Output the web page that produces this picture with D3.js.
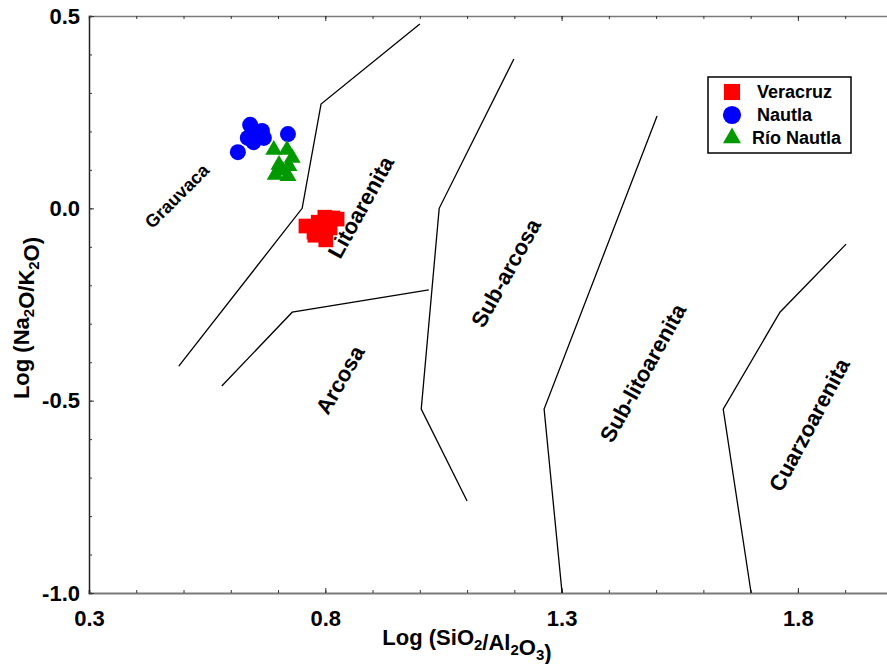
<!DOCTYPE html>
<html>
<head>
<meta charset="utf-8">
<script src="https://cdn.jsdelivr.net/npm/d3@7"></script>
<style>
  body { margin: 0; background: #fff; }
  text { font-family: "Liberation Sans", Arial, sans-serif; font-weight: bold; fill: #000; }
</style>
</head>
<body>
<div id="chart"></div>
<script>
// Sample points, [log(SiO2/Al2O3), log(Na2O/K2O)]
const veracruz = [[0.759, -0.046], [0.776, -0.062], [0.785, -0.036], [0.799, -0.023], [0.816, -0.025],
                  [0.825, -0.028], [0.801, -0.082], [0.793, -0.056], [0.810, -0.051], [0.778, -0.070]];
const nautla = [[0.641, 0.217], [0.666, 0.201], [0.670, 0.183], [0.636, 0.183], [0.648, 0.172],
                [0.615, 0.146], [0.721, 0.193], [0.655, 0.195]];
const rioNautla = [[0.691, 0.152], [0.719, 0.152], [0.730, 0.131], [0.702, 0.113], [0.723, 0.110],
                   [0.694, 0.087], [0.721, 0.084], [0.710, 0.098]];

// Field boundaries of the classification diagram
const boundaries = [
  [[0.490, -0.410], [0.751, 0.000], [0.791, 0.271], [1.000, 0.479]],
  [[0.581, -0.462], [0.730, -0.270], [1.019, -0.212]],
  [[1.199, 0.388], [1.041, 0.000], [1.003, -0.522], [1.100, -0.761]],
  [[1.502, 0.240], [1.263, -0.522], [1.301, -1.000]],
  [[1.902, -0.093], [1.762, -0.270], [1.642, -0.522], [1.701, -1.000]]
];

// Field names, position and rotation
const fieldNames = ["Grauvaca", "Litoarenita", "Arcosa", "Sub-arcosa", "Sub-litoarenita", "Cuarzoarenita"];
const fieldPos = [[0.486, 0.032], [0.875, 0.003], [0.831, -0.446], [1.182, -0.168], [1.472, -0.428], [1.824, -0.563]];
const fieldAngle = [-45, -61, -60, -61, -61, -62];

const xTicks = [0.3, 0.8, 1.3, 1.8];
const yTicks = [-1.0, -0.5, 0.0, 0.5];
const seriesNames = ["Veracruz", "Nautla", "Río Nautla"];

const svgWidth = 887, svgHeight = 664;
const svg = d3.select("#chart").append("svg")
  .attr("width", svgWidth)
  .attr("height", svgHeight);

const x = d3.scaleLinear().domain([0.3, 2.0]).range([89, 89 + 1.7 * 472.6]);
const y = d3.scaleLinear().domain([-1.0, 0.5]).range([593, 16]);

const minorX = d3.range(3, 20).map(d => d / 10);
const minorY = d3.range(-10, 6).map(d => d / 10);
// plain hyphen for negatives, as in the original
const fmt = d => d.toFixed(1);

// bottom axis: minor then major ticks, all pointing inward
svg.append("g")
  .attr("transform", "translate(0," + y(-1.0) + ")")
  .call(d3.axisBottom(x).tickValues(minorX).tickSize(-3).tickFormat(""))
  .call(g => g.select(".domain").attr("stroke", "#7a7a7a").attr("stroke-width", 2));
svg.append("g")
  .attr("transform", "translate(0," + y(-1.0) + ")")
  .call(d3.axisBottom(x).tickValues(xTicks).tickSize(-5).tickPadding(17).tickFormat(fmt))
  .call(g => g.select(".domain").remove())
  .call(g => g.selectAll("text").style("font-size", "22px"));

// top axis
svg.append("g")
  .attr("transform", "translate(0," + y(0.5) + ")")
  .call(d3.axisTop(x).tickValues(minorX).tickSize(-3).tickFormat(""))
  .call(g => g.select(".domain").attr("stroke", "#7a7a7a").attr("stroke-width", 1.5));
svg.append("g")
  .attr("transform", "translate(0," + y(0.5) + ")")
  .call(d3.axisTop(x).tickValues(xTicks).tickSize(-5).tickFormat(""))
  .call(g => g.select(".domain").remove());

// left axis
svg.append("g")
  .attr("transform", "translate(" + x(0.3) + ",0)")
  .call(d3.axisLeft(y).tickValues(minorY).tickSize(-3).tickFormat(""))
  .call(g => g.select(".domain").attr("stroke", "#222").attr("stroke-width", 1.5));
svg.append("g")
  .attr("transform", "translate(" + x(0.3) + ",0)")
  .call(d3.axisLeft(y).tickValues(yTicks).tickSize(-5).tickPadding(9).tickFormat(fmt))
  .call(g => g.select(".domain").remove())
  .call(g => g.selectAll("text").style("font-size", "22px"));

svg.selectAll(".tick line").attr("stroke", "#333");

// axis titles with subscripts
function withSubs(sel, parts) {
  parts.forEach(p => {
    if (p.sub) {
      sel.append("tspan").attr("dy", 5).style("font-size", "15px").text(p.t);
      sel.append("tspan").attr("dy", -5).text("");
    } else {
      sel.append("tspan").text(p.t);
    }
  });
}

const xTitle = svg.append("text")
  .attr("x", 467).attr("y", 645)
  .attr("text-anchor", "middle")
  .style("font-size", "22px");
withSubs(xTitle, [{t: "Log (SiO"}, {t: "2", sub: true}, {t: "/Al"}, {t: "2", sub: true},
                  {t: "O"}, {t: "3", sub: true}, {t: ")"}]);

const yTitle = svg.append("text")
  .attr("transform", "translate(29,318) rotate(-90)")
  .attr("text-anchor", "middle")
  .style("font-size", "22px");
withSubs(yTitle, [{t: "Log (Na"}, {t: "2", sub: true}, {t: "O/K"}, {t: "2", sub: true},
                  {t: "O)"}]);

// boundary lines
const line = d3.line().x(d => x(d[0])).y(d => y(d[1]));
svg.selectAll(".boundary")
  .data(boundaries)
  .enter().append("path")
    .attr("class", "boundary")
    .attr("d", line)
    .attr("fill", "none")
    .attr("stroke", "#000")
    .attr("stroke-width", 1.3);

// field labels
svg.selectAll(".field")
  .data(fieldNames)
  .enter().append("text")
    .attr("class", "field")
    .attr("text-anchor", "middle")
    .attr("dy", "0.35em")
    .attr("transform", (d, i) => "translate(" + x(fieldPos[i][0]) + "," + y(fieldPos[i][1]) + ") rotate(" + fieldAngle[i] + ")")
    .style("font-size", (d, i) => i === 0 ? "18px" : "22px")
    .text(d => d);

// sample points
const series = [
  {data: veracruz, symbol: d3.symbolSquare, size: 215, color: "#ff0000"},
  {data: nautla, symbol: d3.symbolCircle, size: 201, color: "#0000ff"},
  {data: rioNautla, symbol: d3.symbolTriangle, size: 125, color: "#009900"}
];

series.forEach(s => {
  svg.append("g").selectAll("path")
    .data(s.data)
    .enter().append("path")
      .attr("transform", d => "translate(" + x(d[0]) + "," + y(d[1]) + ")")
      .attr("d", d3.symbol().type(s.symbol).size(s.size))
      .attr("fill", s.color);
});

// legend
const legend = svg.append("g").attr("transform", "translate(708,77)");
legend.append("rect")
  .attr("width", 143).attr("height", 76)
  .attr("fill", "#fff").attr("stroke", "#000").attr("stroke-width", 1.5);

const legendItems = legend.selectAll(".item")
  .data(series)
  .enter().append("g")
    .attr("class", "item")
    .attr("transform", (d, i) => "translate(24," + (15 + i * 23) + ")");
legendItems.append("path")
  .attr("d", (d, i) => d3.symbol().type(d.symbol).size(i === 2 ? 140 : 260)())
  .attr("fill", d => d.color);
legendItems.append("text")
  .attr("x", (d, i) => i === 2 ? 20 : 25)
  .attr("dy", "0.36em")
  .style("font-size", "18px")
  .text((d, i) => seriesNames[i]);
</script>
</body>
</html>
